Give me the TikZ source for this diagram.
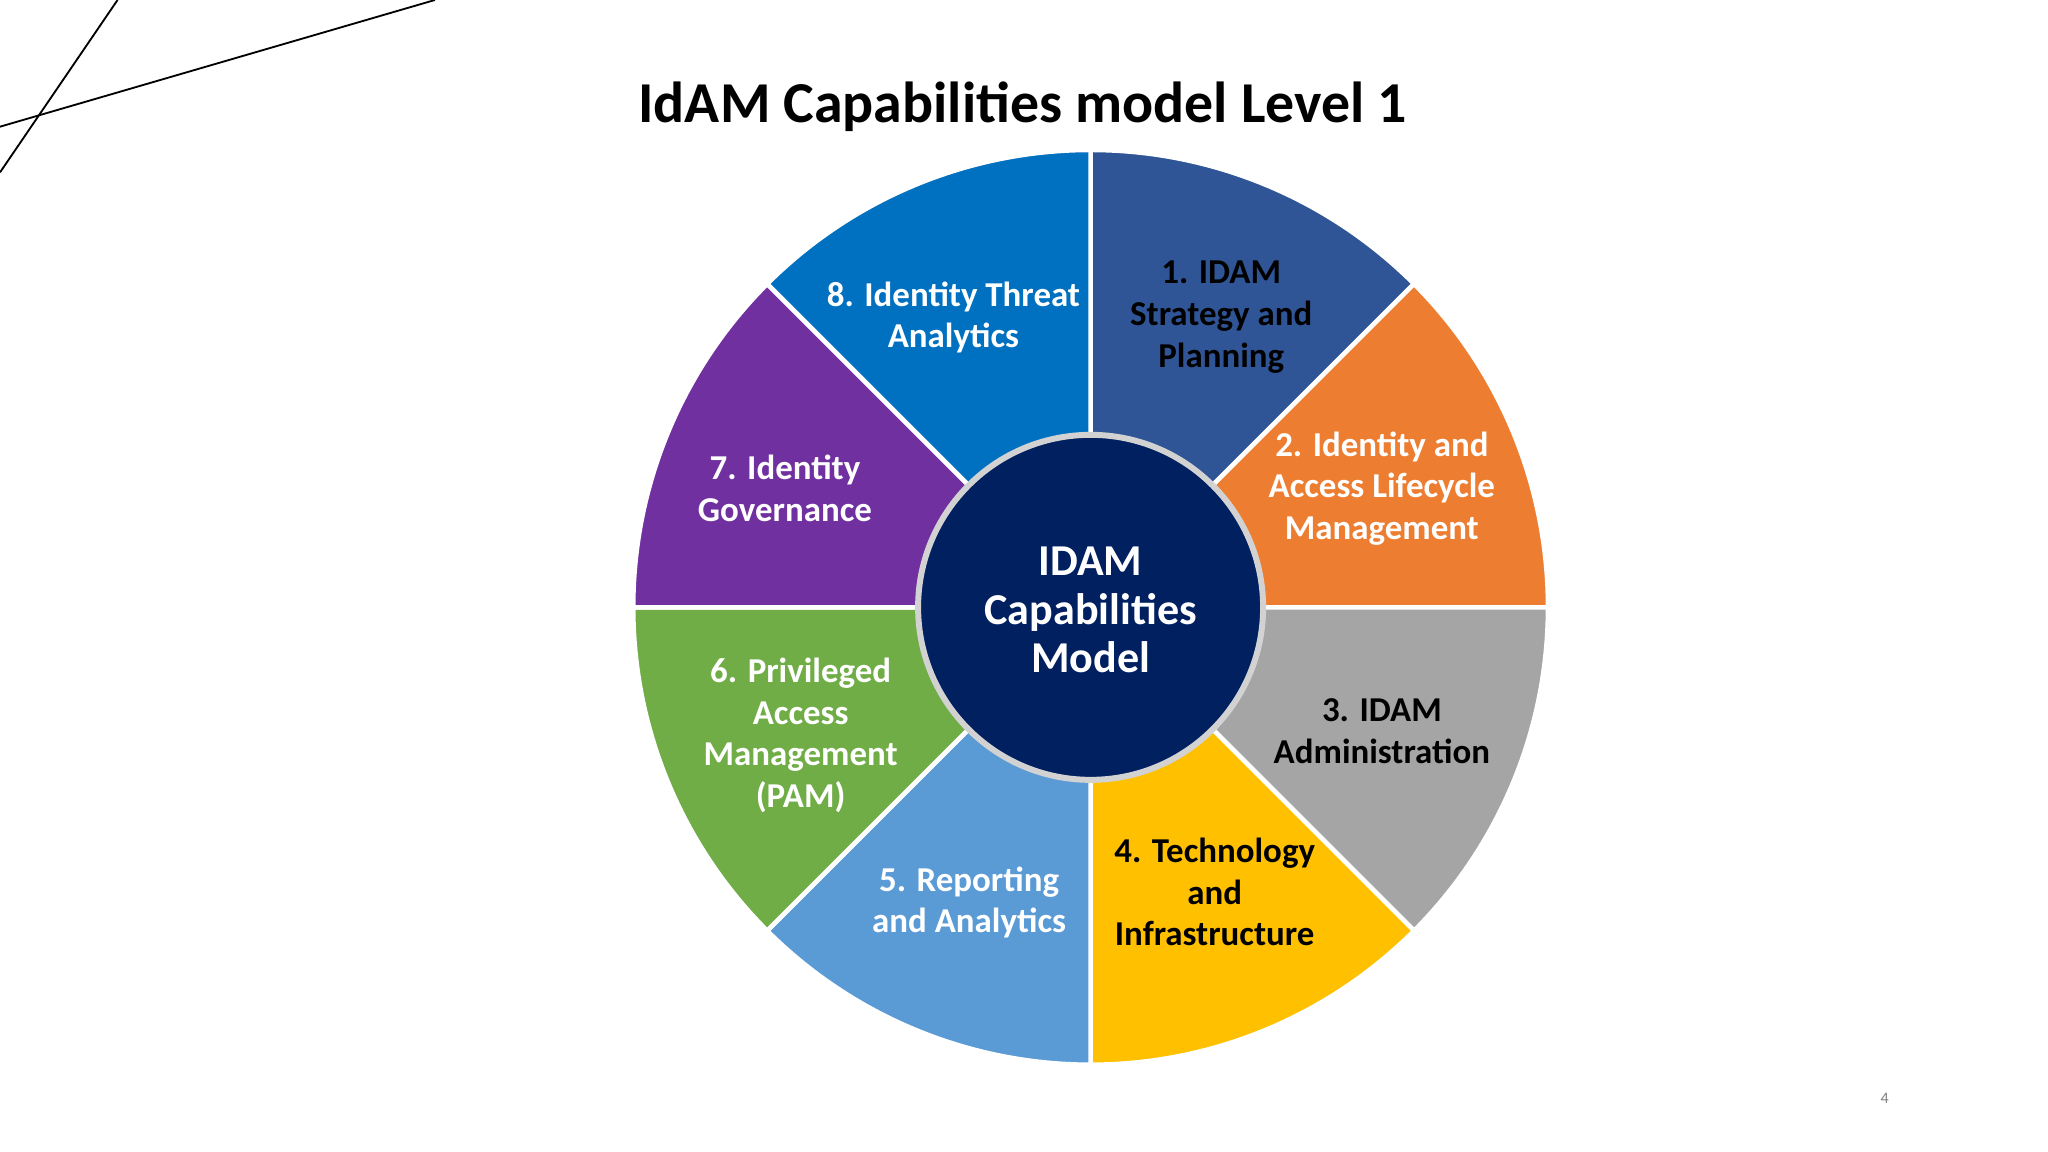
\documentclass[tikz,border=0pt]{standalone}
\usepackage{fontspec}
\setmainfont{Carlito}
\definecolor{c1}{HTML}{2F5597}
\definecolor{c2}{HTML}{ED7D31}
\definecolor{c3}{HTML}{A5A5A5}
\definecolor{c4}{HTML}{FFC000}
\definecolor{c5}{HTML}{5B9BD5}
\definecolor{c6}{HTML}{70AD47}
\definecolor{c7}{HTML}{7030A0}
\definecolor{c8}{HTML}{0070C0}
\definecolor{cc}{HTML}{002060}
\begin{document}
\begin{tikzpicture}[x=0.01cm,y=-0.01cm,
  lab/.style={align=center,font=\bfseries\fontsize{7.6}{9.1}\selectfont},
  sec/.style={draw=white,line width=1pt,line join=round}]
\useasboundingbox (0,0) rectangle (1568,882);
\draw[line width=0.4pt] (0,97) -- (333,0);
\draw[line width=0.4pt] (0,132) -- (90,0);
\node (title) at (783,82) {\bfseries\fontsize{12.6}{15}\selectfont IdAM Capabilities model Level 1};
\coordinate (C) at (835,465);
\foreach \a/\c in {45/c1,0/c2,-45/c3,-90/c4,-135/c5,180/c6,135/c7,90/c8}{
  \filldraw[sec,fill=\c] (C) -- ++(\a:3.5cm) arc[start angle=\a,end angle=\a+45,radius=3.5cm] -- cycle;
}
\filldraw[fill=cc,draw=gray!35,line width=1.3pt] (C) circle[radius=1.32cm];
\node[align=center,text=white,font=\bfseries\fontsize{9.6}{10.6}\selectfont] (ctr) at (835,467) {IDAM\\Capabilities\\Model};
\node[lab,text=black] (s1) at (935,243) {1. IDAM\\Strategy and\\Planning};
\node[lab,text=white] (s2) at (1058,374) {2. Identity and\\Access Lifecycle\\Management};
\node[lab,text=black] (s3) at (1058,560) {3. IDAM\\Administration};
\node[lab,text=black] (s4) at (930,683) {4. Technology\\and\\Infrastructure};
\node[lab,text=white] (s5) at (742,691) {5. Reporting\\and Analytics};
\node[lab,text=white] (s6) at (613,563) {6. Privileged\\Access\\Management\\(PAM)};
\node[lab,text=white] (s7) at (601,374) {7. Identity\\Governance};
\node[lab,text=white] (s8) at (730,243) {8. Identity Threat\\Analytics};
\node[text=gray,font=\fontsize{3.5}{4}\selectfont] (pg) at (1443,841) {4};
\end{tikzpicture}
\end{document}
